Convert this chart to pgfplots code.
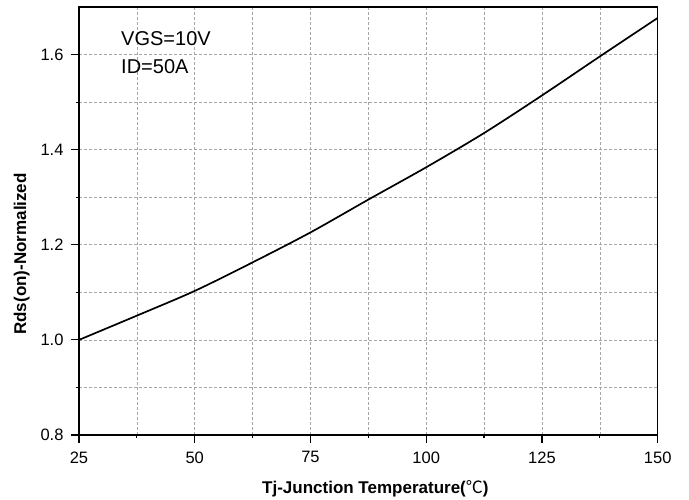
\documentclass[border=0pt]{standalone}
\usepackage{fontspec}
\setmainfont{Liberation Sans}
\newfontfamily\cjk{Noto Sans CJK SC}
\usepackage{pgfplots}
\pgfplotsset{compat=1.18}

\begin{document}
\begin{tikzpicture}
\begin{axis}[
  scale only axis,
  width=578.7pt, height=428pt,
  xmin=25, xmax=150,
  ymin=0.8, ymax=1.7,
  xtick={25,50,75,100,125,150},
  ytick={0.8,1.0,1.2,1.4,1.6},
  minor tick num=1,
  yticklabel style={xshift=-4pt, /pgf/number format/fixed,
    /pgf/number format/fixed zerofill, /pgf/number format/precision=1},
  /pgf/number format/assume math mode=true,
  tick label style={font=\fontsize{16.5}{19}\selectfont},
  xticklabel style={yshift=-5pt},
  tick align=outside,
  xtick pos=left, ytick pos=left,
  major tick length=8pt,
  minor tick length=3pt,
  every tick/.style={black, line width=1.2pt},
  axis line style={line width=1.5pt},
  grid=both,
  major grid style={densely dashed, gray!70, line width=0.6pt},
  minor grid style={densely dashed, gray!70, line width=0.6pt},
  xlabel={\textbf{Tj-Junction Temperature(}{\cjk ℃}\textbf{)}},
  ylabel={\textbf{Rds(on)-Normalized}},
  label style={font=\fontsize{17}{20}\selectfont},
  xlabel style={yshift=-10pt, xshift=7pt},
  ylabel style={at={(ticklabel cs:0.423)}, yshift=4pt},
]
\addplot[black, line width=1.7pt, smooth] coordinates {
  (25,1.000) (37.5,1.051) (50,1.103) (62.5,1.163) (75,1.226) (87.5,1.295)
  (100,1.363) (112.5,1.435) (125,1.514) (137.5,1.596) (150,1.677)
};
\node[anchor=north west, inner sep=0pt, align=left,
      font=\fontsize{20}{28}\selectfont] at (rel axis cs:0.0726,0.944)
      {VGS=10V\\ID=50A};
\coordinate (bl) at (rel axis cs:0,0);
\coordinate (tr) at (rel axis cs:1,1);
\end{axis}
\pgfresetboundingbox
\path ([shift={(-79pt,-64pt)}]bl) rectangle ([shift={(31.3pt,7pt)}]tr);
\end{tikzpicture}
\end{document}
